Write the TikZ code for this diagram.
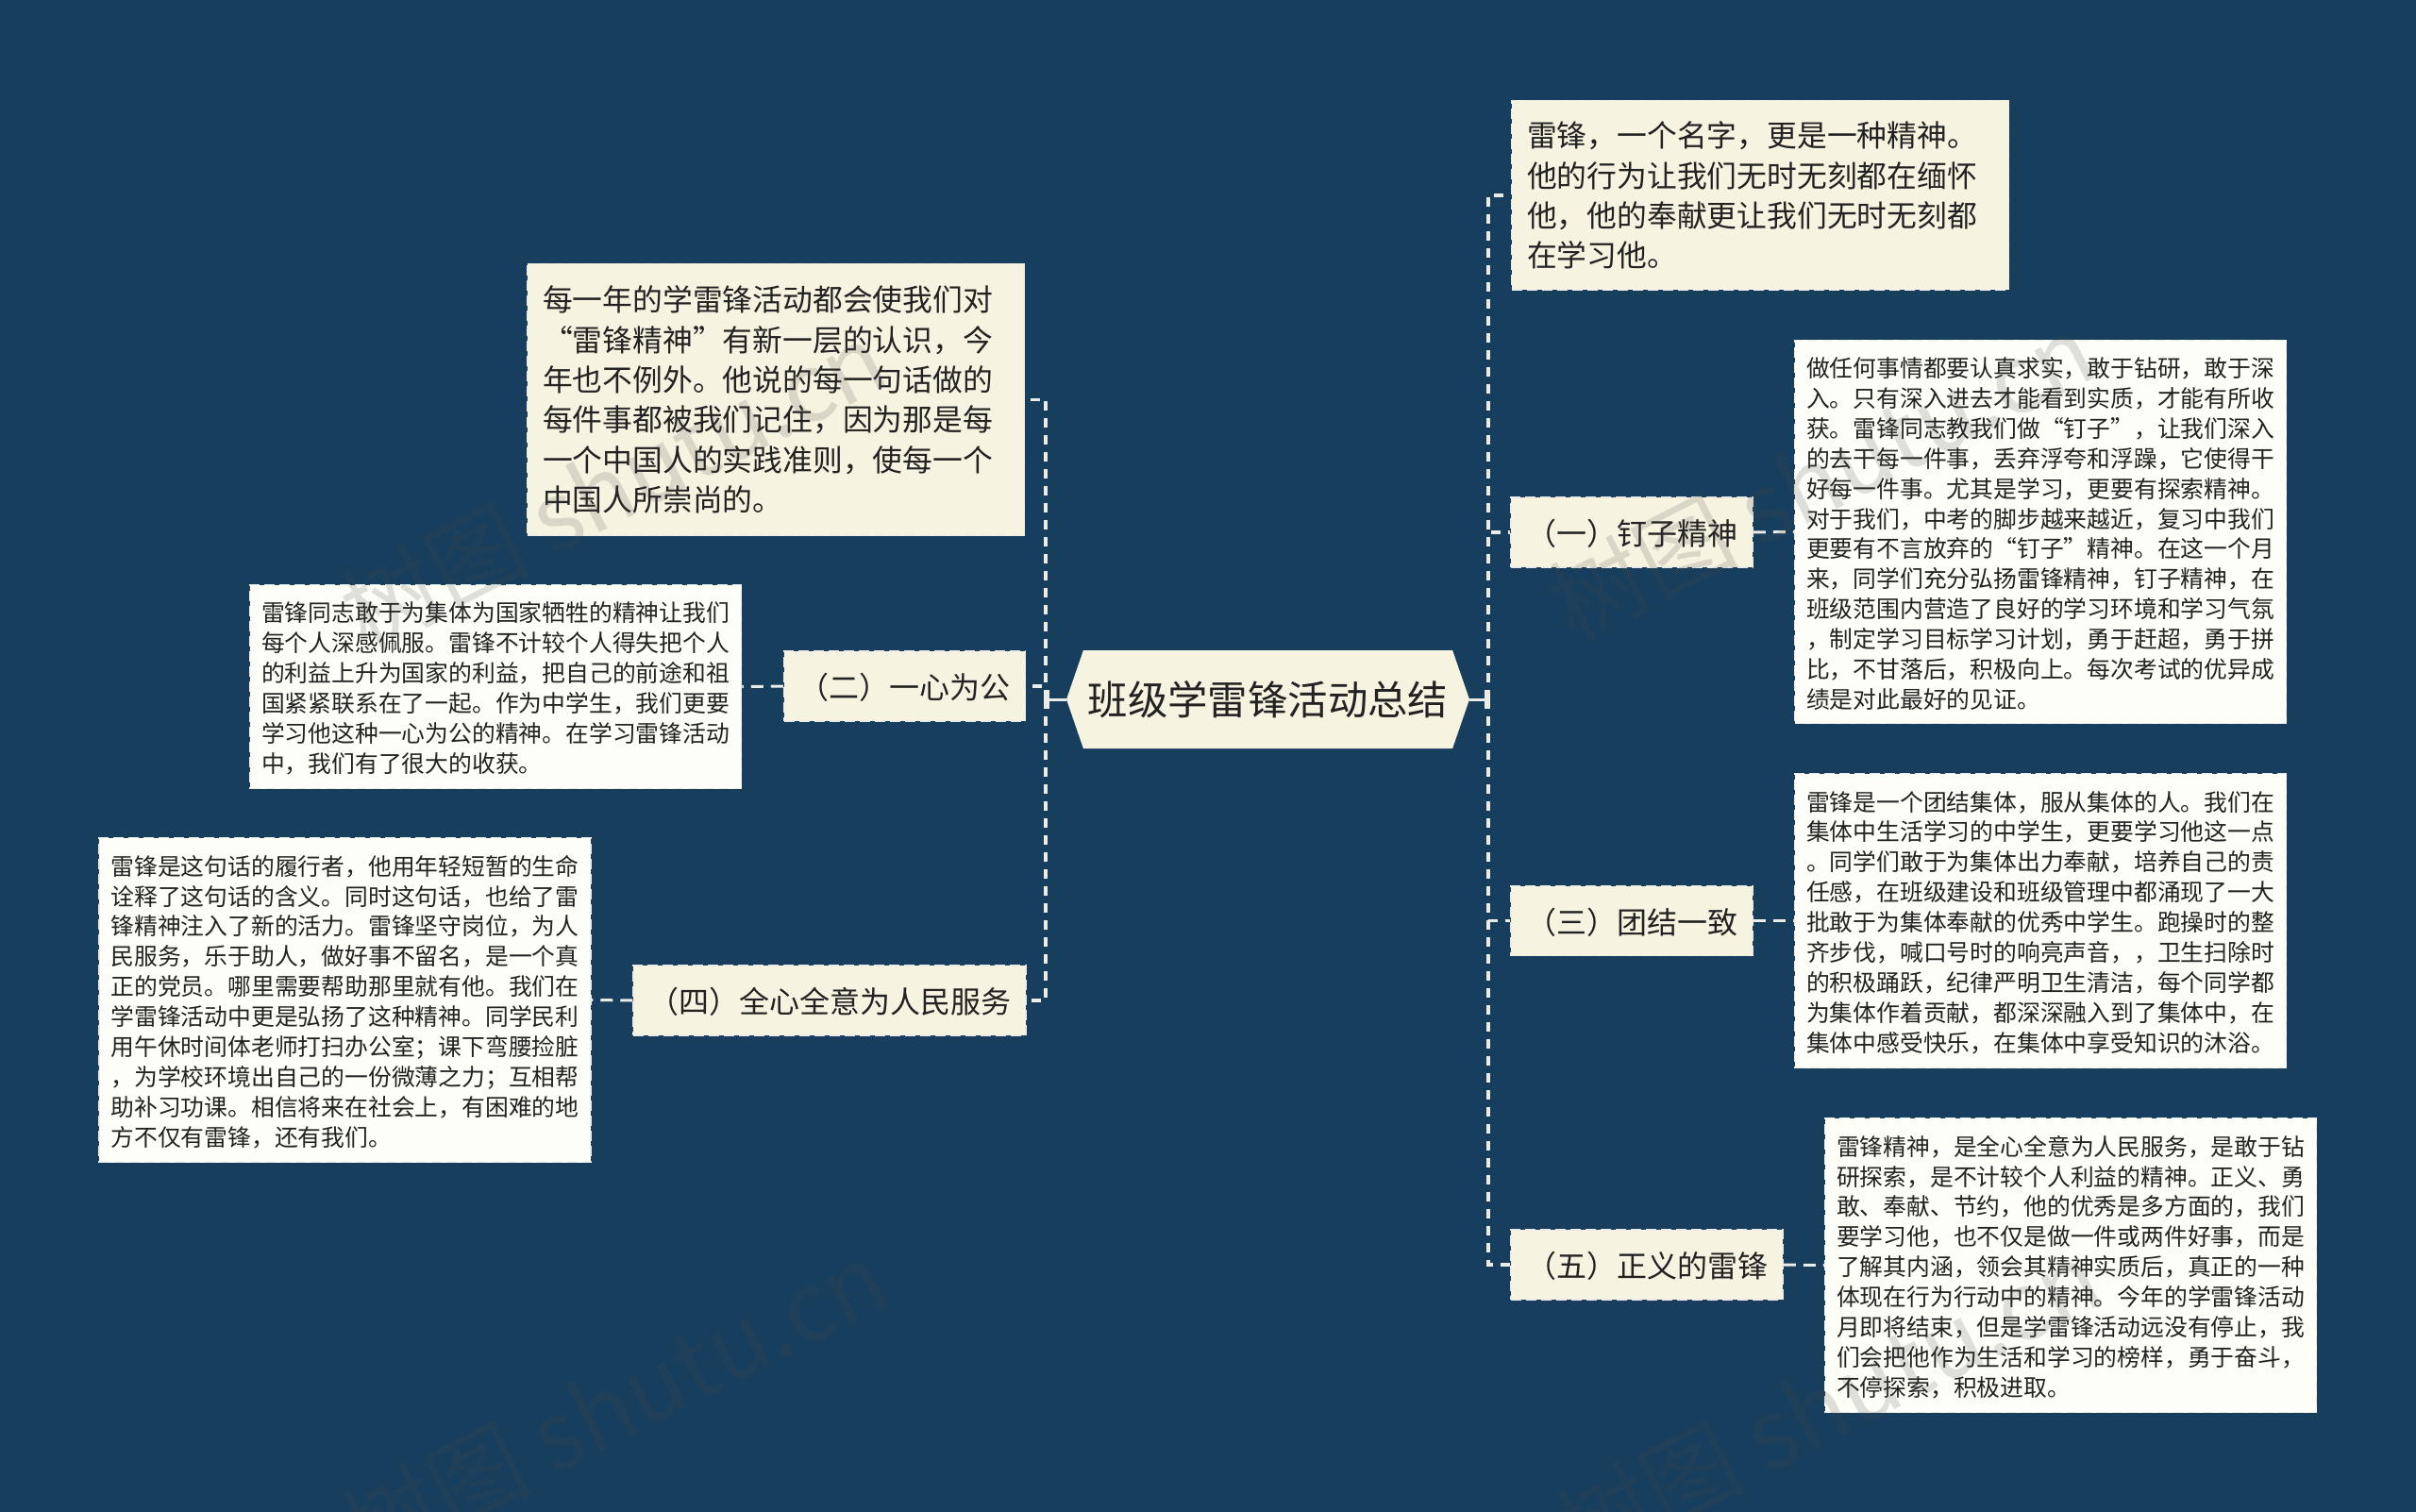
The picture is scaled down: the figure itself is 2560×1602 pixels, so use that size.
\documentclass[tikz,border=0pt]{standalone}
\usepackage{fontspec}
\setmainfont{Noto Sans CJK SC}
\usepackage{tikz}
\usetikzlibrary{shapes.symbols}
\usetikzlibrary{arrows.meta}
\definecolor{bgnavy}{RGB}{24,62,94}
\definecolor{creamfill}{RGB}{247,243,225}
\definecolor{paperfill}{RGB}{254,254,248}
\definecolor{linkwhite}{RGB}{236,236,230}
\definecolor{inkdark}{RGB}{34,34,34}
\tikzset{
    rootnode/.style={shape=signal, signal to=east and west, signal pointer angle=142, fill=creamfill, text=inkdark, inner sep=0pt, minimum width=427pt, minimum height=104pt, font=\fontsize{42.4}{50}\selectfont},
    boxedge/.style={draw=linkwhite, line width=1.5pt, dash pattern=on 11pt off 5pt, text=inkdark, align=left},
    notebox/.style={boxedge, fill=creamfill, text width=494pt, inner xsep=16.5pt, inner ysep=0pt, minimum width=527pt, font=\fontsize{31.8}{42.4}\selectfont},
    tagbox/.style={boxedge, fill=creamfill, inner xsep=16pt, inner ysep=0pt, minimum height=74pt, text height=36pt, text depth=9pt, font=\fontsize{32}{42}\selectfont},
    detailbox/.style={boxedge, fill=paperfill, text width=496pt, inner xsep=12.5pt, inner ysep=0pt, minimum width=521pt, font=\fontsize{24.8}{31.9}\selectfont, execute at end node=\vspace{-4pt}},
    spinelink/.style={draw=linkwhite, line width=3.5pt, dash pattern=on 10pt off 8pt},
    detaillink/.style={draw=linkwhite, line width=3pt, dash pattern=on 13pt off 8pt},
    rootlink/.style={draw=linkwhite, line width=3pt, -{Bar[width=20pt,line width=4pt]}},
    shutumark/.style={text=black!70, opacity=0.17, rotate=27, font=\fontsize{100}{110}\selectfont}
}

\begin{document}
\begin{tikzpicture}[x=1pt, y=-1pt]
    \useasboundingbox (0, 0) rectangle (2560, 1602);
    \fill[bgnavy] (0, 0) rectangle (2560, 1602);
    \node[rootnode] (root) at (1343.5, 741) {班级学雷锋活动总结};
    \coordinate (lspine) at (1108, 741);
    \coordinate (rspine) at (1577, 741);
    \node[notebox, minimum height=201pt] (topnote) at (1865, 207) {雷锋，一个名字，更是一种精神。\\他的行为让我们无时无刻都在缅怀\\他，他的奉献更让我们无时无刻都\\在学习他。};
    \node[notebox, minimum height=288pt] (leftnote) at (822, 423.5) {每一年的学雷锋活动都会使我们对\\“雷锋精神”有新一层的认识，今\\年也不例外。他说的每一句话做的\\每件事都被我们记住，因为那是每\\一个中国人的实践准则，使每一个\\中国人所崇尚的。};
    \node[tagbox] (nailtag) at (1729, 564) {（一）钉子精神};
    \node[tagbox] (unitytag) at (1729, 975.5) {（三）团结一致};
    \node[tagbox] (justtag) at (1745, 1340) {（五）正义的雷锋};
    \node[tagbox] (selftag) at (958.5, 727) {（二）一心为公};
    \node[tagbox] (servetag) at (879, 1060) {（四）全心全意为人民服务};
    \node[detailbox, minimum height=406pt] (naildetail) at (2162, 563.5) {做任何事情都要认真求实，敢于钻研，敢于深\\入。只有深入进去才能看到实质，才能有所收\\获。雷锋同志教我们做“钉子”，让我们深入\\的去干每一件事，丢弃浮夸和浮躁，它使得干\\好每一件事。尤其是学习，更要有探索精神。\\对于我们，中考的脚步越来越近，复习中我们\\更要有不言放弃的“钉子”精神。在这一个月\\来，同学们充分弘扬雷锋精神，钉子精神，在\\班级范围内营造了良好的学习环境和学习气氛\\，制定学习目标学习计划，勇于赶超，勇于拼\\比，不甘落后，积极向上。每次考试的优异成\\绩是对此最好的见证。};
    \node[detailbox, minimum height=312pt] (unitydetail) at (2162, 975.5) {雷锋是一个团结集体，服从集体的人。我们在\\集体中生活学习的中学生，更要学习他这一点\\。同学们敢于为集体出力奉献，培养自己的责\\任感，在班级建设和班级管理中都涌现了一大\\批敢于为集体奉献的优秀中学生。跑操时的整\\齐步伐，喊口号时的响亮声音，，卫生扫除时\\的积极踊跃，纪律严明卫生清洁，每个同学都\\为集体作着贡献，都深深融入到了集体中，在\\集体中感受快乐，在集体中享受知识的沐浴。};
    \node[detailbox, minimum height=312pt] (justdetail) at (2194, 1340.5) {雷锋精神，是全心全意为人民服务，是敢于钻\\研探索，是不计较个人利益的精神。正义、勇\\敢、奉献、节约，他的优秀是多方面的，我们\\要学习他，也不仅是做一件或两件好事，而是\\了解其内涵，领会其精神实质后，真正的一种\\体现在行为行动中的精神。今年的学雷锋活动\\月即将结束，但是学雷锋活动远没有停止，我\\们会把他作为生活和学习的榜样，勇于奋斗，\\不停探索，积极进取。};
    \node[detailbox, minimum height=216pt] (selfdetail) at (525, 727.5) {雷锋同志敢于为集体为国家牺牲的精神让我们\\每个人深感佩服。雷锋不计较个人得失把个人\\的利益上升为国家的利益，把自己的前途和祖\\国紧紧联系在了一起。作为中学生，我们更要\\学习他这种一心为公的精神。在学习雷锋活动\\中，我们有了很大的收获。};
    \node[detailbox, minimum height=344pt] (servedetail) at (365.5, 1059.5) {雷锋是这句话的履行者，他用年轻短暂的生命\\诠释了这句话的含义。同时这句话，也给了雷\\锋精神注入了新的活力。雷锋坚守岗位，为人\\民服务，乐于助人，做好事不留名，是一个真\\正的党员。哪里需要帮助那里就有他。我们在\\学雷锋活动中更是弘扬了这种精神。同学民利\\用午休时间体老师打扫办公室；课下弯腰捡脏\\，为学校环境出自己的一份微薄之力；互相帮\\助补习功课。相信将来在社会上，有困难的地\\方不仅有雷锋，还有我们。};
    \draw[spinelink] (rspine) |- (topnote.west);
    \draw[spinelink] (rspine) |- (nailtag.west);
    \draw[spinelink] (rspine) |- (unitytag.west);
    \draw[spinelink] (rspine) |- (justtag.west);
    \draw[spinelink] (lspine) |- (leftnote.east);
    \draw[spinelink] (lspine) |- (selftag.east);
    \draw[spinelink] (lspine) |- (servetag.east);
    \draw[rootlink] (root.east) -- (rspine);
    \draw[rootlink] (root.west) -- (lspine);
    \draw[detaillink] (nailtag.east) -- (naildetail.west);
    \draw[detaillink] (unitytag.east) -- (unitydetail.west);
    \draw[detaillink] (justtag.east) -- (justdetail.west);
    \draw[detaillink] (selftag.west) -- (selfdetail.east);
    \draw[detaillink] (servetag.west) -- (servedetail.east);
    \node[shutumark] (markone) at (650, 514) {树图 shutu.cn};
    \node[shutumark] (marktwo) at (1930, 505) {树图 shutu.cn};
    \node[shutumark] (markthree) at (651, 1488) {树图 shutu.cn};
    \node[shutumark] (markfour) at (1937, 1487) {树图 shutu.cn};
\end{tikzpicture}
\end{document}
